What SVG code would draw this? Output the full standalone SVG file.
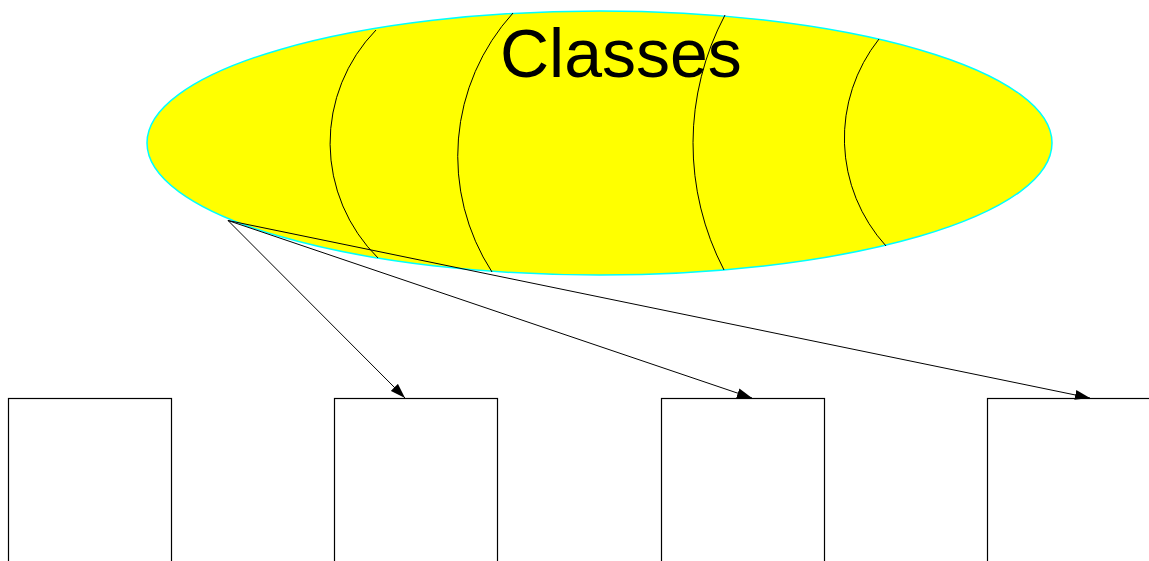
<svg xmlns="http://www.w3.org/2000/svg" width="1149" height="561" viewBox="0 0 1149 561">
  <style>
    .box { fill: #ffffff; stroke: #000000; stroke-width: 1.2; }
    .edge { fill: none; stroke: #000000; stroke-width: 1; }
    .band { fill: none; stroke: #000000; stroke-width: 1; }
    .label { font-family: "Liberation Sans", Arial, sans-serif; font-size: 68px; fill: #000000; }
  </style>
  <defs>
    <marker id="arrow" viewBox="0 0 15 10" refX="15" refY="5" markerWidth="15" markerHeight="10" markerUnits="userSpaceOnUse" orient="auto">
      <path d="M0,0 L15,5 L0,10 z" fill="#000000"/>
    </marker>
  </defs>

  <!-- Classes: yellow ellipse divided by curved bands -->
  <g id="classes">
    <ellipse cx="599.5" cy="143" rx="452.5" ry="132" fill="#ffff00" stroke="#00ffff" stroke-width="1.5"/>
    <path class="band" d="M376,30 A162,162 0 0 0 378,258"/>
    <path class="band" d="M513,13 A213,213 0 0 0 492,272"/>
    <path class="band" d="M725,15 A274,274 0 0 0 724,270"/>
    <path class="band" d="M879,39 A160,160 0 0 0 886,246"/>
    <text class="label" x="500" y="77">Classes</text>
  </g>

  <!-- child boxes -->
  <g id="box1"><rect class="box" x="8.5" y="398.5" width="163" height="200"/></g>
  <g id="box2"><rect class="box" x="334.5" y="398.5" width="163" height="200"/></g>
  <g id="box3"><rect class="box" x="661.5" y="398.5" width="163" height="200"/></g>
  <g id="box4"><rect class="box" x="987.5" y="398.5" width="163" height="200"/></g>

  <!-- connectors -->
  <g id="edges">
    <line class="edge" x1="228" y1="220.5" x2="405" y2="398" marker-end="url(#arrow)"/>
    <line class="edge" x1="228" y1="220.5" x2="752" y2="398" marker-end="url(#arrow)"/>
    <line class="edge" x1="228" y1="220.5" x2="1090" y2="398" marker-end="url(#arrow)"/>
  </g>
</svg>
